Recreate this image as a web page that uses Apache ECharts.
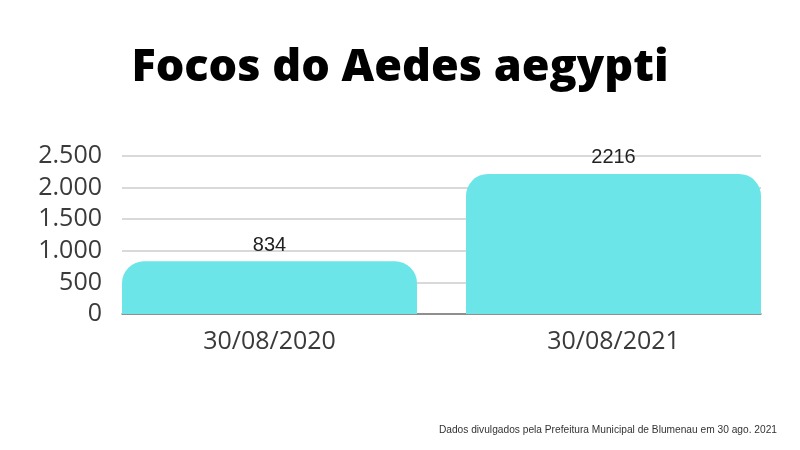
<!DOCTYPE html>
<html>
<head>
<meta charset="utf-8">
<script src="https://cdn.jsdelivr.net/npm/echarts@6/dist/echarts.min.js"></script>
<style>
  html, body { margin: 0; padding: 0; background: #fff; }
  #chart { width: 800px; height: 450px; }
</style>
</head>
<body>
<div id="chart"></div>
<script>
  var categories = ['30/08/2020', '30/08/2021'];
  var focos = [834, 2216];
  var yTicks = [0, 500, 1000, 1500, 2000, 2500];

  function fmt(v) {
    return String(v).replace(/\B(?=(\d{3})+(?!\d))/g, '.');
  }

  var chart = echarts.init(document.getElementById('chart'));
  chart.setOption({
    backgroundColor: '#fff',
    animation: false,
    title: [{
      text: 'Focos do Aedes aegypti',
      left: 'center',
      top: 41,
      textStyle: { fontFamily: 'Open Sans', fontWeight: 800, fontSize: 45, color: '#000' }
    }, {
      text: 'Dados divulgados pela Prefeitura Municipal de Blumenau em 30 ago. 2021',
      right: 18,
      top: 420,
      textStyle: { fontFamily: 'Liberation Sans', fontWeight: 'normal', fontSize: 10.2, color: '#333' }
    }],
    grid: [
      // bars
      { left: 97.5, width: 688, top: 156, bottom: 136 },
      // y axis + split lines
      { left: 122, right: 39, top: 156, bottom: 136 }
    ],
    xAxis: [{
      type: 'category',
      gridIndex: 0,
      data: categories,
      axisLine: { show: false },
      axisTick: { show: false },
      axisLabel: { fontFamily: 'Open Sans', fontSize: 25, color: '#3a3a3a', margin: 15 }
    }, {
      type: 'value',
      gridIndex: 1,
      min: 0,
      max: 1,
      axisLine: { show: true, lineStyle: { color: '#777', width: 1.5 } },
      axisTick: { show: false },
      axisLabel: { show: false },
      splitLine: { show: false }
    }],
    yAxis: [{
      type: 'value',
      gridIndex: 0,
      min: 0,
      max: 2500,
      show: false
    }, {
      type: 'value',
      gridIndex: 1,
      min: 0,
      max: yTicks[yTicks.length - 1],
      interval: 500,
      axisLine: { show: false },
      axisTick: { show: false },
      axisLabel: {
        fontFamily: 'Open Sans', fontSize: 25, color: '#3a3a3a', margin: 20,
        formatter: function (v) { return fmt(v); }
      },
      splitLine: { lineStyle: { color: '#cccccc', width: 1.5 } }
    }],
    series: [{
      type: 'bar',
      xAxisIndex: 0,
      yAxisIndex: 0,
      data: focos,
      barWidth: 295,
      itemStyle: { color: '#6ce5e8', borderRadius: [22, 22, 0, 0] },
      label: {
        show: true,
        position: 'top',
        distance: 6,
        fontFamily: 'Liberation Sans',
        fontSize: 20,
        color: '#222'
      },
      z: 3
    }]
  });
</script>
</body>
</html>
